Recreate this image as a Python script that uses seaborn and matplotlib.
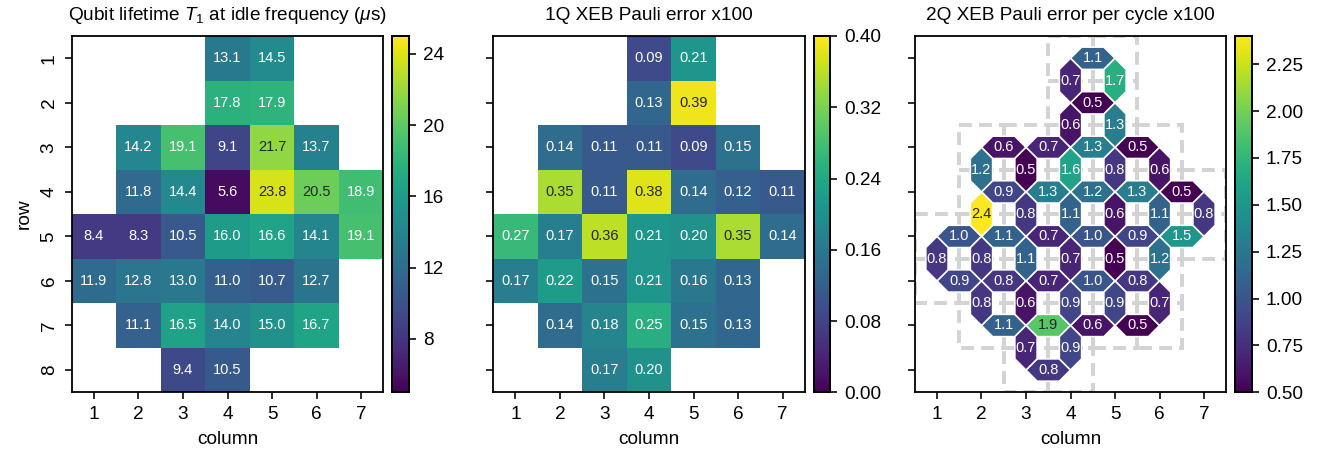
import numpy as np
import pandas as pd
import matplotlib
matplotlib.use("Agg")
import matplotlib.pyplot as plt
import seaborn as sns
from matplotlib.patches import Polygon, Rectangle
from matplotlib.collections import PatchCollection
from matplotlib.colors import Normalize

plt.rcParams['font.family'] = ['Liberation Sans', 'DejaVu Sans']
plt.rcParams['mathtext.fontset'] = 'custom'
plt.rcParams['mathtext.rm'] = 'Liberation Sans'
plt.rcParams['mathtext.it'] = 'Liberation Sans:italic'
FS = 9.5
ANN = 7.3
plt.rcParams['font.size'] = FS

nan = np.nan
row_labels = [1, 2, 3, 4, 5, 6, 7, 8]
col_labels = [1, 2, 3, 4, 5, 6, 7]

t1_values = [
    [nan, nan, nan, 13.1, 14.5, nan, nan],
    [nan, nan, nan, 17.8, 17.9, nan, nan],
    [nan, 14.2, 19.1, 9.1, 21.7, 13.7, nan],
    [nan, 11.8, 14.4, 5.6, 23.8, 20.5, 18.9],
    [8.4, 8.3, 10.5, 16.0, 16.6, 14.1, 19.1],
    [11.9, 12.8, 13.0, 11.0, 10.7, 12.7, nan],
    [nan, 11.1, 16.5, 14.0, 15.0, 16.7, nan],
    [nan, nan, 9.4, 10.5, nan, nan, nan],
]

err1q_values = [
    [nan, nan, nan, 0.09, 0.21, nan, nan],
    [nan, nan, nan, 0.13, 0.39, nan, nan],
    [nan, 0.14, 0.11, 0.11, 0.09, 0.15, nan],
    [nan, 0.35, 0.11, 0.38, 0.14, 0.12, 0.11],
    [0.27, 0.17, 0.36, 0.21, 0.20, 0.35, 0.14],
    [0.17, 0.22, 0.15, 0.21, 0.16, 0.13, nan],
    [nan, 0.14, 0.18, 0.25, 0.15, 0.13, nan],
    [nan, nan, 0.17, 0.20, nan, nan, nan],
]

# 2Q couplers: horizontal pairs per row (left to right), vertical pairs per row gap
err2q_horizontal = [
    [1.1],
    [0.5],
    [0.6, 0.7, 1.3, 0.5],
    [0.9, 1.3, 1.2, 1.3, 0.5],
    [1.0, 1.1, 0.7, 1.0, 0.9, 1.5],
    [0.9, 0.8, 0.7, 1.0, 0.8],
    [1.1, 1.9, 0.6, 0.5],
    [0.8],
]
err2q_vertical = [
    [0.7, 1.7],
    [0.6, 1.3],
    [1.2, 0.5, 1.6, 0.8, 0.6],
    [2.4, 0.8, 1.1, 0.6, 1.1, 0.8],
    [0.8, 0.8, 1.1, 0.7, 0.5, 1.2],
    [0.8, 0.6, 0.9, 0.9, 0.7],
    [0.7, 0.9],
]

titles = [r"Qubit lifetime $T_1$ at idle frequency ($\mu$s)",
          "1Q XEB Pauli error x100",
          "2Q XEB Pauli error per cycle x100"]

W, H, DPI = 1330, 466, 144
fig = plt.figure(figsize=(W / DPI, H / DPI), dpi=DPI)

ax_w, ax_h = 311.6, 356.3
ax_bottom = (H - 392.3) / H
lefts = [71.7, 493.2, 914.7]
cb_w = 16.6

axes, caxes = [], []
for L in lefts:
    axes.append(fig.add_axes([L / W, ax_bottom, ax_w / W, ax_h / H]))
    caxes.append(fig.add_axes([(L + ax_w + 9.0) / W, ax_bottom, cb_w / W, ax_h / H]))

THRESH = 0.72


def recolor_texts(ax, norm):
    for t in ax.texts:
        v = float(t.get_text())
        t.set_color('#262626' if norm(v) > THRESH else 'white')


def finish_axes(ax, show_ylabels):
    for s in ax.spines.values():
        s.set_visible(True)
        s.set_linewidth(0.9)
        s.set_color('black')
    ax.set_xlabel("column", fontsize=FS)
    ax.tick_params(axis='both', length=3.5, width=0.8, color='black', labelsize=FS)
    if show_ylabels:
        ax.set_ylabel("row", fontsize=FS)
        plt.setp(ax.get_yticklabels(), rotation=90, va='center')
    else:
        ax.set_ylabel("")
        ax.tick_params(labelleft=False)
    plt.setp(ax.get_xticklabels(), rotation=0)


# Panel 1
df1 = pd.DataFrame(t1_values, index=row_labels, columns=col_labels)
norm1 = Normalize(5, 25)
sns.heatmap(df1, ax=axes[0], cbar_ax=caxes[0], cmap='viridis', vmin=5, vmax=25,
            annot=True, fmt='.1f', annot_kws={'fontsize': ANN},
            xticklabels=col_labels, yticklabels=row_labels,
            cbar_kws={'ticks': [8, 12, 16, 20, 24]})
recolor_texts(axes[0], norm1)
finish_axes(axes[0], True)
axes[0].set_title(titles[0], fontsize=FS, pad=8)

# Panel 2
df2 = pd.DataFrame(err1q_values, index=row_labels, columns=col_labels)
norm2 = Normalize(0, 0.4)
sns.heatmap(df2, ax=axes[1], cbar_ax=caxes[1], cmap='viridis', vmin=0, vmax=0.4,
            annot=True, fmt='.2f', annot_kws={'fontsize': ANN},
            xticklabels=col_labels, yticklabels=row_labels,
            cbar_kws={'ticks': [0.0, 0.08, 0.16, 0.24, 0.32, 0.40]})
recolor_texts(axes[1], norm2)
finish_axes(axes[1], False)
axes[1].set_title(titles[1], fontsize=FS, pad=8)
caxes[1].set_yticklabels(["0.00", "0.08", "0.16", "0.24", "0.32", "0.40"])

# Panel 3
ax = axes[2]
mask = ~np.isnan(np.array(t1_values))
nr, nc = mask.shape
# dashed cell outlines for each qubit
for r in range(nr):
    for c in range(nc):
        if mask[r, c]:
            ax.add_patch(Rectangle((c, r), 1, 1, fill=False, edgecolor='#d3d3d3',
                                   linewidth=2.0, linestyle=(0, (3.2, 1.8)), zorder=1))

polys, vals, centers = [], [], []
for r in range(nr):
    cs = [c for c in range(nc - 1) if mask[r, c] and mask[r, c + 1]]
    for c, v in zip(cs, err2q_horizontal[r]):
        x, y = c + 1.0, r + 0.5
        polys.append(Polygon([(x - 0.5, y), (x - 0.25, y - 0.25), (x + 0.25, y - 0.25),
                              (x + 0.5, y), (x + 0.25, y + 0.25), (x - 0.25, y + 0.25)]))
        vals.append(v)
        centers.append((x, y))
for r in range(nr - 1):
    cs = [c for c in range(nc) if mask[r, c] and mask[r + 1, c]]
    for c, v in zip(cs, err2q_vertical[r]):
        x, y = c + 0.5, r + 1.0
        polys.append(Polygon([(x, y - 0.5), (x + 0.25, y - 0.25), (x + 0.25, y + 0.25),
                              (x, y + 0.5), (x - 0.25, y + 0.25), (x - 0.25, y - 0.25)]))
        vals.append(v)
        centers.append((x, y))

norm3 = Normalize(0.5, 2.4)
pc = PatchCollection(polys, cmap='viridis', norm=norm3, edgecolor='white',
                     linewidth=0.8, zorder=3)
pc.set_array(np.array(vals))
ax.add_collection(pc)
for (x, y), v in zip(centers, vals):
    ax.text(x, y, f"{v:.1f}", ha='center', va='center', fontsize=ANN, zorder=4,
            color='#262626' if norm3(v) > THRESH else 'white')
ax.set_xlim(0, nc)
ax.set_ylim(nr, 0)
ax.set_xticks(np.arange(nc) + 0.5)
ax.set_xticklabels(col_labels)
ax.set_yticks(np.arange(nr) + 0.5)
ax.set_yticklabels(row_labels)
finish_axes(ax, False)
ax.set_title(titles[2], fontsize=FS, pad=8)
cb3 = fig.colorbar(pc, cax=caxes[2], ticks=[0.5, 0.75, 1.0, 1.25, 1.5, 1.75, 2.0, 2.25])

for cax in caxes:
    cax.tick_params(labelsize=FS, length=3.5, width=0.8)
    for s in cax.spines.values():
        s.set_visible(True)
        s.set_linewidth(0.9)
for a in axes[:2]:
    cb = a.collections[0].colorbar
    cb.outline.set_linewidth(0.9)
    cb.outline.set_edgecolor('black')
cb3.outline.set_linewidth(0.9)

fig.savefig("out.png", dpi=DPI)
